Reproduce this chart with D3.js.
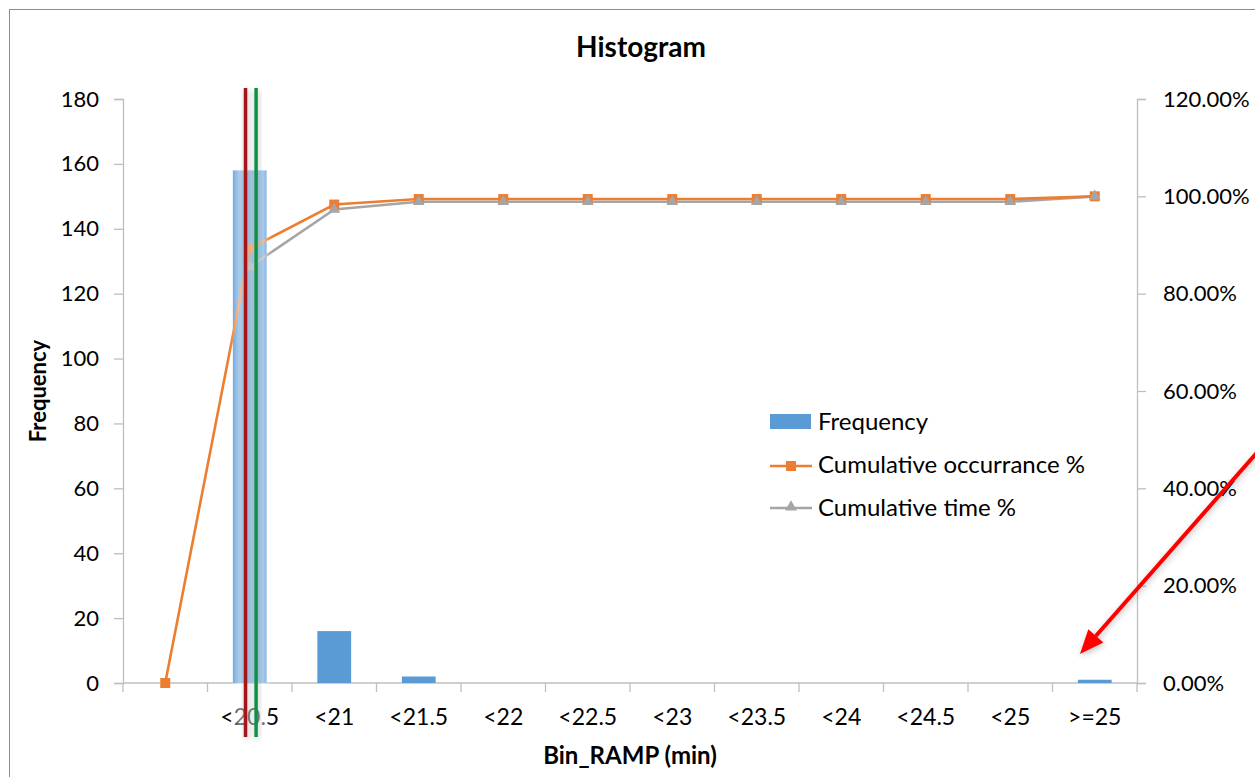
<!DOCTYPE html>
<html>
<head>
<meta charset="utf-8">
<script src="https://cdn.jsdelivr.net/npm/d3@7/dist/d3.min.js"></script>
<style>
  html, body { margin: 0; padding: 0; background: #fff; }
  svg { display: block; font-family: Lato, "Open Sans", sans-serif; }
</style>
</head>
<body>
<svg id="chart" width="1255" height="777"></svg>
<script>
// Bins of the RAMP duration histogram
const categories = ["", "<20.5", "<21", "<21.5", "<22", "<22.5", "<23", "<23.5", "<24", "<24.5", "<25", ">=25"];
// Count per bin
const frequency = [0, 158, 16, 2, 0, 0, 0, 0, 0, 0, 0, 1];
// Cumulative share of occurrences (%)
const cumOccurrence = [0, 89.27, 98.31, 99.44, 99.44, 99.44, 99.44, 99.44, 99.44, 99.44, 99.44, 100];
// Cumulative share of time (%), no value for the empty first bin
const cumTime = [null, 85.5, 97.3, 98.9, 98.9, 98.9, 98.9, 98.9, 98.9, 98.9, 98.9, 100];
const leftTicks = [0, 20, 40, 60, 80, 100, 120, 140, 160, 180];
const rightTicks = [0, 20, 40, 60, 80, 100, 120];
// Marker positions (in bin index units) of the two reference lines
const refLines = [{ pos: 0.95, color: "#a5141b" }, { pos: 1.075, color: "#119245" }];

const svg = d3.select("#chart");
const W = 1255, H = 777;
const plot = { left: 123, right: 1137, top: 99, bottom: 683 };
const axisColor = "#bfbfbf";

const x = d3.scaleBand().domain(categories.map((c, i) => i)).range([plot.left, plot.right]).paddingInner(0.6).paddingOuter(0.3);
const xOuter = d3.scaleBand().domain(categories.map((c, i) => i)).range([plot.left, plot.right]);
const yL = d3.scaleLinear().domain([0, 180]).range([plot.bottom, plot.top]);
const yR = d3.scaleLinear().domain([0, 120]).range([plot.bottom, plot.top]);
const xc = i => xOuter(i) + xOuter.bandwidth() / 2;

const defs = svg.append("defs");
const blur = defs.append("filter").attr("id", "soft").attr("x", "-50%").attr("y", "-10%").attr("width", "200%").attr("height", "120%");
blur.append("feGaussianBlur").attr("stdDeviation", 3);
const shadow = defs.append("filter").attr("id", "shade").attr("x", "-50%").attr("y", "-50%").attr("width", "200%").attr("height", "200%");
shadow.append("feGaussianBlur").attr("in", "SourceAlpha").attr("stdDeviation", 3).attr("result", "b");
shadow.append("feOffset").attr("dx", 1).attr("dy", 2).attr("result", "o");
shadow.append("feComponentTransfer").append("feFuncA").attr("type", "linear").attr("slope", 0.25);
const m = shadow.append("feMerge");
m.append("feMergeNode");
m.append("feMergeNode").attr("in", "SourceGraphic");

// Chart frame
svg.append("rect").attr("x", 9.5).attr("y", 9.5).attr("width", W + 20).attr("height", H + 20)
  .attr("fill", "#fff").attr("stroke", "#8c8c8c").attr("stroke-width", 1);

// Title
svg.append("text").attr("x", 641).attr("y", 57).attr("text-anchor", "middle")
  .attr("font-weight", "bold").attr("font-size", 28).attr("fill", "#000").text("Histogram");

// Left axis
const gL = svg.append("g").attr("transform", `translate(${plot.left},0)`)
  .call(d3.axisLeft(yL).tickValues(leftTicks).tickSize(9).tickPadding(15).tickSizeOuter(9));
// Right axis
const gR = svg.append("g").attr("transform", `translate(${plot.right},0)`)
  .call(d3.axisRight(yR).tickValues(rightTicks).tickSize(9).tickPadding(17).tickSizeOuter(9)
    .tickFormat(d => d.toFixed(2) + "%"));
// Bottom axis
const gB = svg.append("g").attr("transform", `translate(0,${plot.bottom})`)
  .call(d3.axisBottom(xOuter).tickFormat(i => categories[i]).tickSize(0).tickPadding(26));
gB.selectAll(".tick").append("line")
  .attr("x1", -xOuter.bandwidth() / 2).attr("x2", -xOuter.bandwidth() / 2).attr("y1", 0).attr("y2", 9);
gB.append("line").attr("x1", plot.right).attr("x2", plot.right).attr("y1", 0).attr("y2", 9);

[gL, gR, gB].forEach(g => {
  g.selectAll("path").attr("stroke", axisColor).attr("stroke-width", 1.3);
  g.selectAll("line").attr("stroke", axisColor).attr("stroke-width", 1.3);
  g.selectAll("text").attr("font-size", 22).attr("fill", "#000").attr("font-family", "Lato, sans-serif");
});
gB.selectAll("text").attr("font-size", 23);
gB.select(".domain").attr("d", `M${plot.left},0H${plot.right}`);

// Axis titles
svg.append("text").attr("transform", `translate(46,${(plot.top + plot.bottom) / 2}) rotate(-90)`)
  .attr("text-anchor", "middle").attr("font-weight", "bold").attr("font-size", 22).text("Frequency");
svg.append("text").attr("x", 630).attr("y", 764).attr("text-anchor", "middle")
  .attr("font-weight", "bold").attr("font-size", 24).text("Bin_RAMP (min)");

// Bars
svg.append("g").selectAll("rect").data(frequency).join("rect")
  .attr("x", (d, i) => x(i)).attr("width", x.bandwidth())
  .attr("y", d => yL(d)).attr("height", d => yL(0) - yL(d))
  .attr("fill", "#5b9bd5");

// Cumulative lines
const line = d3.line().defined(d => d[1] != null).x(d => xc(d[0])).y(d => yR(d[1]));
const occPts = cumOccurrence.map((v, i) => [i, v]);
const timePts = cumTime.map((v, i) => [i, v]);
svg.append("path").attr("d", line(timePts)).attr("fill", "none").attr("stroke", "#a5a5a5").attr("stroke-width", 2.6);
svg.append("path").attr("d", line(occPts)).attr("fill", "none").attr("stroke", "#ed7d31").attr("stroke-width", 2.6);
svg.append("g").selectAll("rect").data(occPts).join("rect")
  .attr("x", d => xc(d[0]) - 5).attr("y", d => yR(d[1]) - 5).attr("width", 10).attr("height", 10)
  .attr("fill", "#ed7d31");
const tri = d3.symbol().type(d3.symbolTriangle).size(60);
svg.append("g").selectAll("path").data(timePts.filter(d => d[1] != null)).join("path")
  .attr("transform", d => `translate(${xc(d[0])},${yR(d[1])})`).attr("d", tri).attr("fill", "#a5a5a5");

// Reference markers with soft backing
const refX = refLines.map(r => xOuter(0) + r.pos * xOuter.bandwidth() + xOuter.bandwidth() / 2);
const bx0 = d3.min(refX) - 11, bx1 = d3.max(refX) + 11;
svg.append("rect").attr("x", bx0).attr("y", 84).attr("width", bx1 - bx0).attr("height", 658)
  .attr("fill", "#fff").attr("opacity", 0.5).attr("filter", "url(#soft)");
svg.append("g").attr("filter", "url(#shade)").selectAll("line").data(refLines).join("line")
  .attr("x1", (d, i) => refX[i]).attr("x2", (d, i) => refX[i])
  .attr("y1", 88).attr("y2", 737)
  .attr("stroke", d => d.color).attr("stroke-width", 3.5);

// Legend
const lg = svg.append("g").attr("transform", "translate(770,0)");
lg.append("rect").attr("x", 0).attr("y", 414).attr("width", 41).attr("height", 15).attr("fill", "#5b9bd5");
lg.append("line").attr("x1", 0).attr("x2", 42).attr("y1", 466).attr("y2", 466).attr("stroke", "#ed7d31").attr("stroke-width", 2.6);
lg.append("rect").attr("x", 16).attr("y", 461).attr("width", 10).attr("height", 10).attr("fill", "#ed7d31");
lg.append("line").attr("x1", 0).attr("x2", 42).attr("y1", 508).attr("y2", 508).attr("stroke", "#a5a5a5").attr("stroke-width", 2.6);
lg.append("path").attr("transform", "translate(21,507)").attr("d", tri).attr("fill", "#a5a5a5");
const legendLabels = ["Frequency", "Cumulative occurrance %", "Cumulative time %"];
lg.selectAll("text.lbl").data(legendLabels).join("text").attr("class", "lbl")
  .attr("x", 48).attr("y", (d, i) => 430 + i * 43)
  .attr("font-size", 24).attr("fill", "#000").text(d => d);

// Pointer arrow toward the last bin
const arrow = svg.append("g").attr("filter", "url(#shade)");
const ax0 = 1268, ay0 = 440, ax1 = 1080, ay1 = 654;
const ang = Math.atan2(ay1 - ay0, ax1 - ax0);
const headL = 24, headW = 10;
const bxp = ax1 - headL * Math.cos(ang), byp = ay1 - headL * Math.sin(ang);
arrow.append("line").attr("x1", ax0).attr("y1", ay0).attr("x2", bxp).attr("y2", byp)
  .attr("stroke", "#ff0000").attr("stroke-width", 4);
arrow.append("path").attr("d", `M${ax1},${ay1}L${bxp + headW * Math.sin(ang)},${byp - headW * Math.cos(ang)}L${bxp - headW * Math.sin(ang)},${byp + headW * Math.cos(ang)}Z`)
  .attr("fill", "#ff0000");
</script>
</body>
</html>
